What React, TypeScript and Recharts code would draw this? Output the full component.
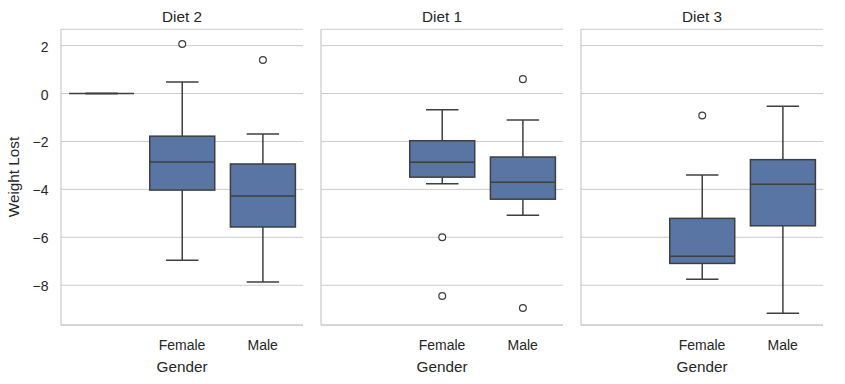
import React from "react";
import { ComposedChart, Bar, XAxis, YAxis, CartesianGrid } from "recharts";

// facet order as in the figure
const PANELS = ["Diet 2", "Diet 1", "Diet 3"];
const GENDERS = [" ", "Female", "Male"];

// per panel, per gender (null = empty group)
const WHISKER_LOW = [
    [0, -6.96, -7.87],
    [null, -3.77, -5.08],
    [null, -7.75, -9.17],
];
const Q1 = [
    [0, -4.03, -5.57],
    [null, -3.49, -4.41],
    [null, -7.09, -5.52],
];
const MEDIAN = [
    [0, -2.86, -4.28],
    [null, -2.87, -3.7],
    [null, -6.79, -3.79],
];
const Q3 = [
    [0, -1.78, -2.94],
    [null, -1.97, -2.65],
    [null, -5.21, -2.76],
];
const WHISKER_HIGH = [
    [0, 0.48, -1.69],
    [null, -0.68, -1.1],
    [null, -3.4, -0.53],
];
const OUTLIERS: number[][][] = [
    [[], [2.07], [1.4]],
    [[], [-6.0, -8.45], [0.6, -8.95]],
    [[], [-0.92], []],
];

const Y_TICKS = [2, 0, -2, -4, -6, -8];
const Y_DOMAIN = [-9.66, 2.68];

const FONT = '"Liberation Sans", Arial, sans-serif';
const TEXT = "#262626";
const LINE = "#3f3f3f";
const BOX = "#5975a4";
const SPINE = "#cccccc";

// chart boxes: left offset, svg width, y-axis width
const LAYOUT = [
    { left: 0, width: 311, yAxisWidth: 61 },
    { left: 311, width: 260, yAxisWidth: 10 },
    { left: 571, width: 260, yAxisWidth: 10 },
];

function buildRows(p: number) {
    return GENDERS.map((g, i) => {
        const low = WHISKER_LOW[p][i];
        const high = WHISKER_HIGH[p][i];
        const out = OUTLIERS[p][i];
        return {
            gender: g,
            low,
            q1: Q1[p][i],
            med: MEDIAN[p][i],
            q3: Q3[p][i],
            high,
            out,
            range: low == null ? null : [Math.min(low, ...out), Math.max(high as number, ...out)],
        };
    });
}

function BoxShape(props: any) {
    const { x, y, width, height, payload } = props;
    if (!payload || payload.low == null) return <g />;
    const [lo, hi] = payload.range;
    const toY = (v: number) => (hi === lo ? y : y + ((hi - v) / (hi - lo)) * height);
    const cx = x + width / 2;
    const cap = width / 4;
    const sw = 1.5;
    return (
        <g>
            <line x1={cx} x2={cx} y1={toY(payload.q3)} y2={toY(payload.high)} stroke={LINE} strokeWidth={sw} />
            <line x1={cx} x2={cx} y1={toY(payload.q1)} y2={toY(payload.low)} stroke={LINE} strokeWidth={sw} />
            <line x1={cx - cap} x2={cx + cap} y1={toY(payload.high)} y2={toY(payload.high)} stroke={LINE} strokeWidth={sw} />
            <line x1={cx - cap} x2={cx + cap} y1={toY(payload.low)} y2={toY(payload.low)} stroke={LINE} strokeWidth={sw} />
            <rect
                x={x}
                y={toY(payload.q3)}
                width={width}
                height={toY(payload.q1) - toY(payload.q3)}
                fill={BOX}
                stroke={LINE}
                strokeWidth={sw}
            />
            <line x1={x} x2={x + width} y1={toY(payload.med)} y2={toY(payload.med)} stroke={LINE} strokeWidth={sw} />
            {payload.out.map((v: number, k: number) => (
                <circle key={k} cx={cx} cy={toY(v)} r={3.4} fill="#ffffff" stroke={LINE} strokeWidth={1.25} />
            ))}
        </g>
    );
}

function XTick(props: any) {
    const { x, y, payload } = props;
    return (
        <text x={x} y={y} dy={25} textAnchor="middle" fontSize={14} fontFamily={FONT} fill={TEXT}>
            {payload.value}
        </text>
    );
}

function YTick(props: any) {
    const { x, y, payload } = props;
    const v = payload.value;
    const label = v < 0 ? "\u2212" + Math.abs(v) : String(v);
    return (
        <text x={x - 12.5} y={y} dy={6} textAnchor="end" fontSize={14} fontFamily={FONT} fill={TEXT}>
            {label}
        </text>
    );
}

// shared y axis: later facets keep the gridlines but draw no labels
function NoTick() {
    return <g />;
}

function GenderLabel(props: any) {
    const vb = props.viewBox;
    return (
        <text x={vb.x + vb.width / 2} y={vb.y + 46.5} textAnchor="middle" fontSize={15.3} fontFamily={FONT} fill={TEXT}>
            Gender
        </text>
    );
}

function Panel({ index }: { index: number }) {
    const box = LAYOUT[index];
    const rows = buildRows(index);
    return (
        <div style={{ position: "absolute", left: box.left, top: 0 }}>
            <ComposedChart
                width={box.width}
                height={384}
                data={rows}
                margin={{ top: 29.3, right: 8, bottom: 0, left: 0 }}
                barCategoryGap="10%"
            >
                <CartesianGrid vertical={false} stroke={SPINE} strokeWidth={1} />
                <XAxis
                    dataKey="gender"
                    type="category"
                    interval={0}
                    height={59}
                    tickSize={0}
                    tickMargin={0}
                    tickLine={false}
                    axisLine={{ stroke: SPINE, strokeWidth: 1.25 }}
                    tick={XTick}
                    label={GenderLabel}
                />
                <YAxis
                    type="number"
                    domain={Y_DOMAIN}
                    ticks={Y_TICKS}
                    allowDataOverflow
                    width={box.yAxisWidth}
                    tickSize={0}
                    tickMargin={0}
                    tickLine={false}
                    axisLine={{ stroke: SPINE, strokeWidth: 1.25 }}
                    tick={index === 0 ? YTick : NoTick}
                />
                <Bar dataKey="range" shape={BoxShape} isAnimationActive={false} />
            </ComposedChart>
        </div>
    );
}

export default function App() {
    return (
        <div style={{ position: "absolute", left: 0, top: 0, width: 845, height: 384, background: "#ffffff" }}>
            {PANELS.map((_, i) => (
                <Panel key={i} index={i} />
            ))}
            {/* facet titles + shared y label */}
            <svg width={845} height={384} style={{ position: "absolute", left: 0, top: 0, pointerEvents: "none" }}>
                {PANELS.map((title, i) => {
                    const b = LAYOUT[i];
                    const cx = b.left + b.yAxisWidth + (b.width - b.yAxisWidth - 8) / 2;
                    return (
                        <text key={title} x={cx} y={22} textAnchor="middle" fontSize={15.3} fontFamily={FONT} fill={TEXT}>
                            {title}
                        </text>
                    );
                })}
                <text
                    x={18.5}
                    y={177}
                    transform="rotate(-90 18.5 177)"
                    textAnchor="middle"
                    fontSize={15.3}
                    fontFamily={FONT}
                    fill={TEXT}
                >
                    Weight Lost
                </text>
            </svg>
        </div>
    );
}
